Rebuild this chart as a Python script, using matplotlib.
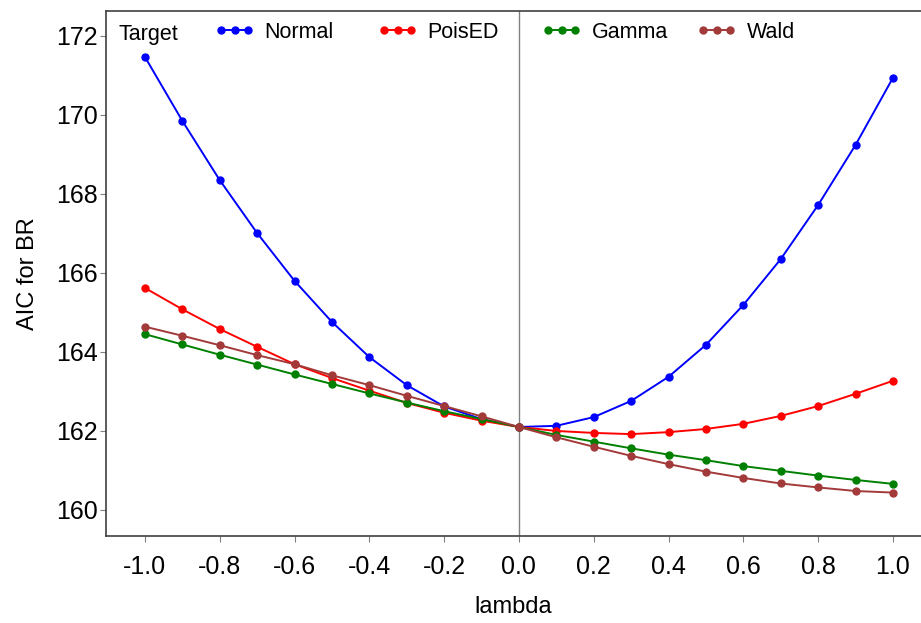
import matplotlib
matplotlib.use("Agg")
import matplotlib.pyplot as plt
import numpy as np

plt.rcParams['font.family'] = ['Liberation Sans', 'DejaVu Sans']

# lambda grid and AIC values
lam = [-1.0, -0.9, -0.8, -0.7, -0.6, -0.5, -0.4, -0.3, -0.2, -0.1, 0.0,
       0.1, 0.2, 0.3, 0.4, 0.5, 0.6, 0.7, 0.8, 0.9, 1.0]
normal = [171.47, 169.85, 168.35, 167.01, 165.80, 164.76, 163.87, 163.16, 162.62, 162.30, 162.10,
          162.13, 162.35, 162.76, 163.37, 164.18, 165.19, 166.35, 167.72, 169.24, 170.94]
poised = [165.62, 165.08, 164.58, 164.13, 163.69, 163.34, 163.02, 162.71, 162.46, 162.26, 162.10,
          162.00, 161.95, 161.92, 161.97, 162.05, 162.18, 162.38, 162.63, 162.94, 163.27]
gamma = [164.45, 164.19, 163.93, 163.68, 163.43, 163.19, 162.95, 162.72, 162.50, 162.30, 162.10,
         161.90, 161.73, 161.56, 161.40, 161.26, 161.11, 160.99, 160.87, 160.76, 160.66]
wald = [164.64, 164.41, 164.17, 163.92, 163.69, 163.41, 163.16, 162.89, 162.63, 162.37, 162.10,
        161.84, 161.60, 161.37, 161.16, 160.97, 160.81, 160.67, 160.57, 160.48, 160.44]

xticks = [-1.0, -0.8, -0.6, -0.4, -0.2, 0.0, 0.2, 0.4, 0.6, 0.8, 1.0]
xticklabels = ["-1.0", "-0.8", "-0.6", "-0.4", "-0.2", "0.0", "0.2", "0.4", "0.6", "0.8", "1.0"]
yticks = [160, 162, 164, 166, 168, 170, 172]

series = [("Normal", normal, "#0000ff"),
          ("PoisED", poised, "#ff0000"),
          ("Gamma", gamma, "#008000"),
          ("Wald", wald, "#a33a3a")]

fig = plt.figure(figsize=(9.21, 6.23), dpi=100)
ax = fig.add_axes([0.1151, 0.1396, 0.8849, 0.8427])

ax.axvline(0, color="#808080", lw=1.0, zorder=1)

lines = []
for name, vals, col in series:
    ln, = ax.plot(lam, vals, color=col, lw=1.4, marker="o", markersize=5, label=name, zorder=3)
    lines.append(ln)

ax.set_xlim(-1.104, 1.075)
ax.set_ylim(159.34, 172.63)
ax.set_xticks(xticks)
ax.set_xticklabels(xticklabels)
ax.set_yticks(yticks)

ax.tick_params(direction="out", length=4, width=0.8, color="#808080", labelsize=18)
ax.tick_params(axis="x", pad=10)
ax.tick_params(axis="y", pad=2)
for s in ["left", "bottom", "top"]:
    ax.spines[s].set_color("#404040")
    ax.spines[s].set_linewidth(1.2)
ax.spines["right"].set_visible(False)

ax.set_xlabel("lambda", fontsize=17, labelpad=12)
ax.set_ylabel("AIC for BR", fontsize=17, labelpad=12)

# legend row along the top: "Target" then one entry per series
fig.text(118 / 921, 1 - 32 / 623, "Target", fontsize=15.5, va="center_baseline", ha="left")
legend_x = [215, 378, 542, 697]
for ln, px in zip(lines, legend_x):
    leg = fig.legend([ln], [ln.get_label()], loc="center left",
                     bbox_to_anchor=(px / 921, 1 - 32 / 623), frameon=False,
                     fontsize=15.5, numpoints=3, handlelength=1.85, handletextpad=0.45,
                     borderpad=0, borderaxespad=0)

plt.savefig("out.png", dpi=100)
